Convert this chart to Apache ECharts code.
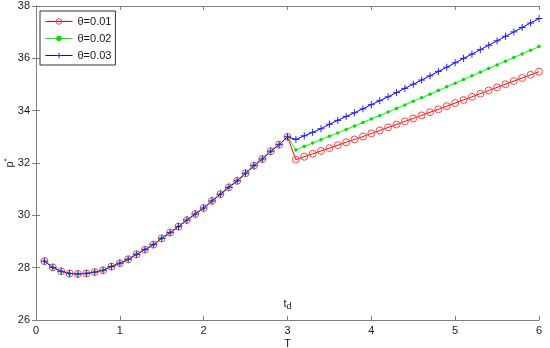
<!DOCTYPE html>
<html>
<head>
<meta charset="utf-8">
<script src="https://cdn.jsdelivr.net/npm/echarts@6/dist/echarts.min.js"></script>
<style>
  html, body { margin: 0; padding: 0; background: #fff; }
  #chart { width: 550px; height: 348px; }
</style>
</head>
<body>
<div id="chart"></div>
<script>
// shared part of the curve, T = 0.1 .. 3.0 (all three θ coincide)
var tCommon = [0.1, 0.2, 0.3, 0.4, 0.5, 0.6, 0.7, 0.8, 0.9, 1.0,
  1.1, 1.2, 1.3, 1.4, 1.5, 1.6, 1.7, 1.8, 1.9, 2.0,
  2.1, 2.2, 2.3, 2.4, 2.5, 2.6, 2.7, 2.8, 2.9, 3.0];
var pCommon = [28.25, 28.01, 27.86, 27.78, 27.76, 27.78, 27.83, 27.90, 28.04, 28.17,
  28.32, 28.51, 28.69, 28.88, 29.12, 29.34, 29.57, 29.82, 30.05, 30.28,
  30.55, 30.81, 31.07, 31.32, 31.61, 31.90, 32.15, 32.45, 32.70, 33.00];

// after t_d, T = 3.1 .. 6.0
var tTail = [3.1, 3.2, 3.3, 3.4, 3.5, 3.6, 3.7, 3.8, 3.9, 4.0,
  4.1, 4.2, 4.3, 4.4, 4.5, 4.6, 4.7, 4.8, 4.9, 5.0,
  5.1, 5.2, 5.3, 5.4, 5.5, 5.6, 5.7, 5.8, 5.9, 6.0];
var pTheta001 = [32.13, 32.24, 32.35, 32.46, 32.57, 32.68, 32.79, 32.90, 33.01, 33.13,
  33.24, 33.36, 33.47, 33.59, 33.70, 33.82, 33.94, 34.05, 34.17, 34.29,
  34.41, 34.53, 34.65, 34.77, 34.89, 35.01, 35.13, 35.25, 35.37, 35.49];
var pTheta002 = [32.50, 32.63, 32.76, 32.89, 33.02, 33.15, 33.28, 33.41, 33.55, 33.68,
  33.81, 33.95, 34.08, 34.22, 34.36, 34.49, 34.63, 34.77, 34.91, 35.05,
  35.19, 35.33, 35.47, 35.61, 35.75, 35.89, 36.03, 36.17, 36.31, 36.45];
var pTheta003 = [32.90, 33.04, 33.17, 33.31, 33.48, 33.63, 33.78, 33.92, 34.07, 34.23,
  34.38, 34.53, 34.69, 34.85, 35.01, 35.17, 35.33, 35.50, 35.66, 35.83,
  36.00, 36.16, 36.33, 36.50, 36.67, 36.84, 37.01, 37.18, 37.35, 37.52];

var seriesNames = ['θ=0.01', 'θ=0.02', 'θ=0.03'];
var xTicks = [0, 1, 2, 3, 4, 5, 6];
var yTicks = [26, 28, 30, 32, 34, 36, 38];
var tdPos = 3;

function pairs(tail) {
  var out = [];
  for (var i = 0; i < tCommon.length; i++) out.push([tCommon[i], pCommon[i]]);
  for (var j = 0; j < tTail.length; j++) out.push([tTail[j], tail[j]]);
  return out;
}

var axisGray = '#7f7f7f';
var txt = '#1a1a1a';
var font = 'Liberation Sans, Arial, sans-serif';

var chart = echarts.init(document.getElementById('chart'));
chart.setOption({
  backgroundColor: '#fff',
  animation: false,
  grid: { left: 36, right: 11, top: 6, bottom: 28, outerBoundsMode: 'none', containLabel: false },
  legend: {
    left: 40, top: 11, orient: 'vertical',
    itemWidth: 27, itemHeight: 7, itemGap: 6,
    padding: [5, 4, 4, 5],
    borderColor: '#333', borderWidth: 1, backgroundColor: '#fff',
    textStyle: { fontSize: 11, color: txt, fontFamily: font },
    lineStyle: { width: 1 },
    itemStyle: { borderWidth: 1 },
    data: seriesNames
  },
  xAxis: [{
    type: 'value', min: xTicks[0], max: xTicks[xTicks.length - 1], interval: 1,
    name: 'T', nameLocation: 'middle', nameGap: 18, nameMoveOverlap: false,
    nameTextStyle: { fontSize: 11, color: txt, fontFamily: font },
    axisLine: { lineStyle: { color: axisGray, width: 1 } },
    axisTick: { inside: true, length: 4, lineStyle: { color: axisGray } },
    axisLabel: { fontSize: 11, color: txt, fontFamily: font, margin: 5 },
    splitLine: { show: false }
  }, {
    type: 'value', position: 'top', min: 0, max: 6, interval: 1,
    axisLine: { lineStyle: { color: axisGray, width: 1 } },
    axisTick: { inside: true, length: 4, lineStyle: { color: axisGray } },
    axisLabel: { show: false }, splitLine: { show: false }
  }],
  yAxis: [{
    type: 'value', min: yTicks[0], max: yTicks[yTicks.length - 1], interval: 2,
    name: '{p|p}{s|*}', nameLocation: 'middle', nameGap: 19, nameRotate: 90,
    nameMoveOverlap: false,
    nameTextStyle: {
      color: txt, fontFamily: font,
      rich: {
        p: { fontSize: 11, color: txt, fontFamily: font },
        s: { fontSize: 8, color: txt, fontFamily: font, verticalAlign: 'top', padding: [0, 0, 6, 0] }
      }
    },
    axisLine: { show: true, lineStyle: { color: axisGray, width: 1 } },
    axisTick: { show: true, inside: true, length: 4, lineStyle: { color: axisGray } },
    axisLabel: { fontSize: 11, color: txt, fontFamily: font, margin: 6 },
    splitLine: { show: false }
  }, {
    type: 'value', position: 'right', min: 26, max: 38, interval: 2,
    axisLine: { show: true, lineStyle: { color: axisGray, width: 1 } },
    axisTick: { show: true, inside: true, length: 4, lineStyle: { color: axisGray } },
    axisLabel: { show: false }, splitLine: { show: false }
  }],
  series: [{
    name: seriesNames[0], type: 'line', data: pairs(pTheta001),
    symbol: 'circle', symbolSize: 7, showAllSymbol: true,
    lineStyle: { color: '#ff0000', width: 1 },
    itemStyle: { color: 'rgba(255,0,0,0)', borderColor: '#ff4545', borderWidth: 1 },
    markPoint: {
      symbol: 'circle', symbolSize: 1,
      itemStyle: { color: 'rgba(0,0,0,0)', borderWidth: 0 },
      data: [{ coord: [tdPos, yTicks[0]] }],
      label: {
        show: true, position: 'inside', offset: [0, -16],
        formatter: '{t|t}{d|d}',
        rich: {
          t: { fontSize: 11, color: txt, fontFamily: font },
          d: { fontSize: 9, color: txt, fontFamily: font, verticalAlign: 'bottom', padding: [6, 0, 0, 0] }
        }
      }
    }
  }, {
    name: seriesNames[1], type: 'line', data: pairs(pTheta002),
    symbol: 'circle', symbolSize: 3.5, showAllSymbol: true,
    lineStyle: { color: '#00ff00', width: 1 },
    itemStyle: { color: '#00dd00', borderWidth: 0 }
  }, {
    name: seriesNames[2], type: 'line', data: pairs(pTheta003),
    symbol: 'path://M0,5L10,5M5,0L5,10', symbolSize: 7, showAllSymbol: true,
    lineStyle: { color: '#0000ff', width: 1 },
    itemStyle: { color: 'rgba(0,0,255,0)', borderColor: '#2020ff', borderWidth: 1 }
  }]
});
</script>
</body>
</html>
